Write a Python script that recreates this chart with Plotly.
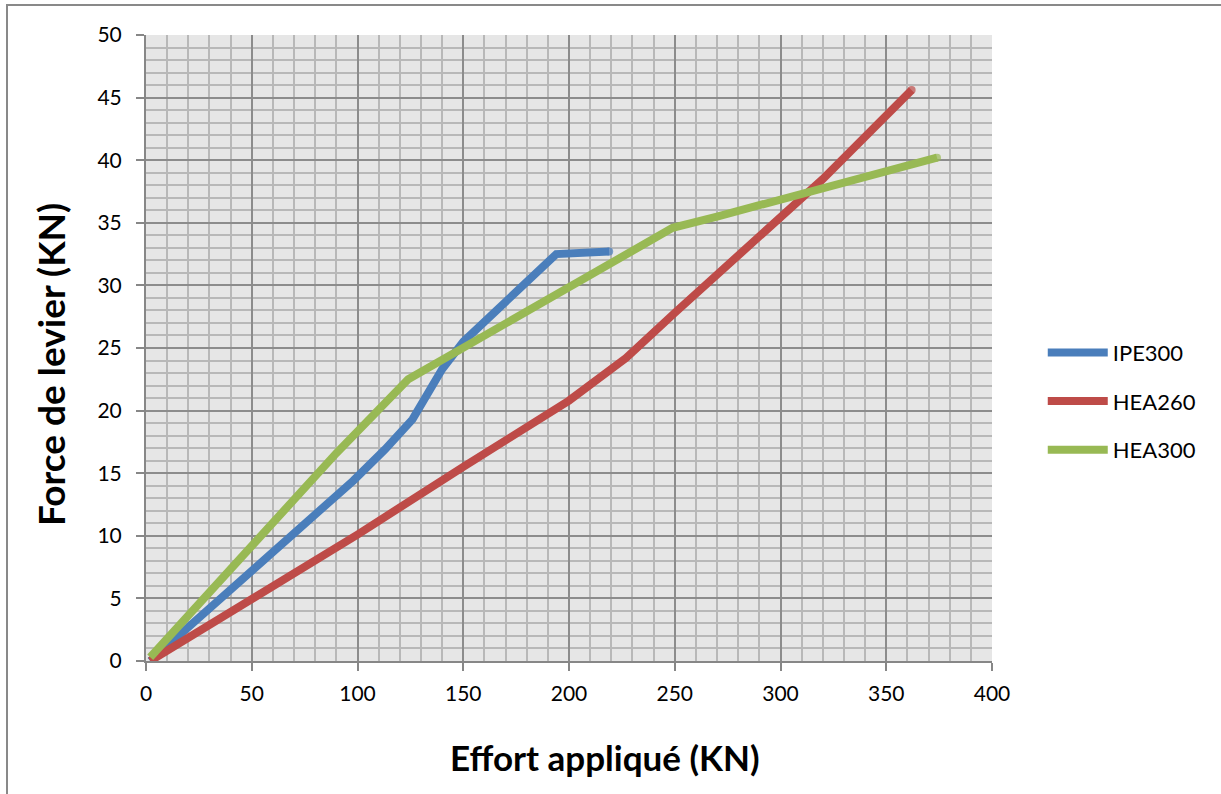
import plotly.graph_objects as go

# Effort appliqué (KN) vs force de levier (KN) for three profiles
ipe300_x = [2, 50, 98, 113, 126, 140, 150, 194, 219]
ipe300_y = [0, 7.3, 14.4, 16.9, 19.3, 23.3, 25.5, 32.5, 32.7]

hea260_x = [2, 50, 100, 150, 200, 227, 250, 320, 362]
hea260_y = [0, 4.9, 10.1, 15.5, 20.8, 24.2, 27.8, 38.5, 45.6]

hea300_x = [2, 50, 90, 124, 150, 205, 249, 270, 374]
hea300_y = [0.3, 9.2, 16.6, 22.5, 25.0, 30.3, 34.6, 35.5, 40.2]

series = [
    ("IPE300", ipe300_x, ipe300_y, "#4a7ebb"),
    ("HEA260", hea260_x, hea260_y, "#be4b48"),
    ("HEA300", hea300_x, hea300_y, "#98b954"),
]

FONT = "Lato, Carlito, Calibri, sans-serif"

fig = go.Figure()
for name, xs, ys, color in series:
    sizes = [0] * (len(xs) - 1) + [8]
    fig.add_trace(go.Scatter(
        x=xs, y=ys, name=name, legendgroup=name,
        mode="lines+markers",
        line=dict(color=color, width=8),
        marker=dict(color=color, size=sizes, line=dict(width=0)),
    ))

axis_common = dict(
    showline=True, linecolor="#878787", linewidth=2,
    ticks="outside", ticklen=8, tickcolor="#878787", tickwidth=2,
    showgrid=True, gridcolor="#8c8c8c", gridwidth=2,
    zeroline=False, mirror=False,
    tickfont=dict(family=FONT, size=21, color="#000000"),
)

fig.update_xaxes(
    range=[0, 400], dtick=50, tick0=0,
    minor=dict(dtick=10, showgrid=True, gridcolor="#b8b8b8", gridwidth=2),
    ticklabelstandoff=5,
    **axis_common,
)
fig.update_yaxes(
    range=[0, 50], dtick=5, tick0=0,
    minor=dict(dtick=1, showgrid=True, gridcolor="#b8b8b8", gridwidth=2),
    ticklabelstandoff=10,
    **axis_common,
)

title_font = dict(family=FONT, color="#000000")

fig.update_layout(
    width=1221, height=794,
    margin=dict(l=146, r=229, t=35, b=133),
    paper_bgcolor="#ffffff",
    plot_bgcolor="#e6e6e6",
    font=dict(family=FONT, size=18, color="#000000"),
    legend=dict(
        x=1.06, y=0.415, xanchor="left", yanchor="middle",
        font=dict(family=FONT, size=22, color="#000000"),
        bgcolor="rgba(0,0,0,0)", tracegroupgap=17,
        itemwidth=60,
    ),
    annotations=[
        dict(text="<b>Effort appliqué (KN)</b>", xref="paper", yref="paper",
             x=0.5426, y=-0.1534, xanchor="center", yanchor="middle",
             showarrow=False, font=dict(size=35, **title_font)),
        dict(text="<b>Force de levier (KN)</b>", xref="paper", yref="paper",
             x=-0.1135, y=0.4744, xanchor="center", yanchor="middle",
             textangle=-90, showarrow=False, font=dict(size=37, **title_font)),
    ],
    shapes=[dict(
        type="rect", xref="paper", yref="paper",
        x0=-0.1643, x1=1.30, y0=-0.25, y1=1.048,
        line=dict(color="#898989", width=2), fillcolor="rgba(0,0,0,0)",
        layer="below",
    )],
)

fig.write_html("out.html")
